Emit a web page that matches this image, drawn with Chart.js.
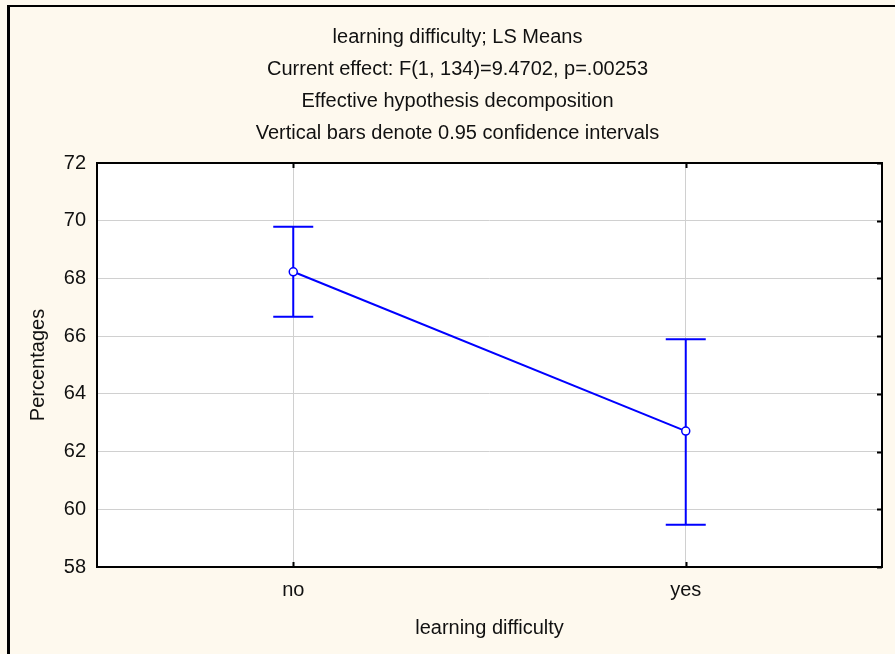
<!DOCTYPE html>
<html>
<head>
<meta charset="utf-8">
<title>learning difficulty; LS Means</title>
<script src="https://cdn.jsdelivr.net/npm/chart.js@4/dist/chart.umd.min.js"></script>
<style>
  html, body { margin: 0; padding: 0; background: #fef9ee; }
  #lsMeans { display: block; }
</style>
</head>
<body>
<canvas id="lsMeans" width="895" height="654"></canvas>
<script>
// LS means with 0.95 confidence intervals
const categories = ['no', 'yes'];
const means = [68.23, 62.71];
const ciLower = [66.67, 59.46];
const ciUpper = [69.79, 65.89];
const yTicks = [58, 60, 62, 64, 66, 68, 70, 72];
const titleLines = [
  'learning difficulty; LS Means',
  'Current effect: F(1, 134)=9.4702, p=.00253',
  'Effective hypothesis decomposition',
  'Vertical bars denote 0.95 confidence intervals'
];

const fontFamily = "'Liberation Sans', Arial, sans-serif";
const blue = '#0000ff';

// background, error bars, borders and inner tick marks
const framePlugin = {
  id: 'frame',
  beforeDraw(chart) {
    const { ctx, chartArea: a } = chart;
    ctx.save();
    ctx.fillStyle = '#fef9ee';
    ctx.fillRect(0, 0, chart.width, chart.height);
    ctx.fillStyle = '#ffffff';
    ctx.fillRect(a.left, a.top, a.right - a.left, a.bottom - a.top);
    ctx.restore();
  },
  beforeDatasetsDraw(chart) {
    const { ctx } = chart;
    const x = chart.scales.x;
    const y = chart.scales.y;
    ctx.save();
    ctx.strokeStyle = blue;
    ctx.lineWidth = 2;
    categories.forEach((c, i) => {
      const px = x.getPixelForValue(i);
      const top = y.getPixelForValue(ciUpper[i]);
      const bot = y.getPixelForValue(ciLower[i]);
      ctx.beginPath();
      ctx.moveTo(px, top);
      ctx.lineTo(px, bot);
      ctx.moveTo(px - 20, top);
      ctx.lineTo(px + 20, top);
      ctx.moveTo(px - 20, bot);
      ctx.lineTo(px + 20, bot);
      ctx.stroke();
    });
    ctx.restore();
  },
  afterDraw(chart) {
    const { ctx, chartArea: a } = chart;
    const x = chart.scales.x;
    const y = chart.scales.y;
    ctx.save();
    ctx.strokeStyle = '#000';
    ctx.lineWidth = 2;
    ctx.strokeRect(a.left, a.top, a.right - a.left, a.bottom - a.top);
    ctx.beginPath();
    categories.forEach((c, i) => {
      const px = Math.round(x.getPixelForValue(i)) + 0.5;
      ctx.moveTo(px, a.top);
      ctx.lineTo(px, a.top + 5);
      ctx.moveTo(px, a.bottom);
      ctx.lineTo(px, a.bottom - 5);
    });
    yTicks.forEach(v => {
      const py = Math.round(y.getPixelForValue(v)) + 0.5;
      ctx.moveTo(a.right, py);
      ctx.lineTo(a.right - 5, py);
    });
    ctx.stroke();
    // outer frame (top and left edges)
    ctx.fillStyle = '#000';
    ctx.fillRect(7, 5, chart.width - 7, 2);
    ctx.fillRect(7, 5, 3, chart.height - 5);
    ctx.restore();
  }
};

const ctx = document.getElementById('lsMeans').getContext('2d');
new Chart(ctx, {
  type: 'line',
  data: {
    labels: categories,
    datasets: [{
      label: 'LS Means',
      data: means,
      borderColor: blue,
      borderWidth: 2,
      tension: 0,
      pointRadius: 4,
      pointHoverRadius: 4,
      pointBackgroundColor: '#ffffff',
      pointBorderColor: blue,
      pointBorderWidth: 1.5
    }]
  },
  options: {
    responsive: false,
    animation: false,
    layout: { padding: { left: 20, right: 0, top: 0, bottom: 0 } },
    plugins: {
      legend: { display: false },
      tooltip: { enabled: false },
      title: {
        display: true,
        text: titleLines,
        color: '#111',
        font: { family: fontFamily, size: 20, weight: 'normal', lineHeight: 32 / 20 },
        padding: { top: 21, bottom: 14 }
      }
    },
    scales: {
      x: {
        type: 'category',
        offset: true,
        grid: { color: '#d0d0d0', offset: false, drawTicks: false },
        border: { display: false },
        ticks: { color: '#111', padding: 11, font: { family: fontFamily, size: 20 } },
        title: {
          display: true,
          text: 'learning difficulty',
          color: '#111',
          font: { family: fontFamily, size: 20 },
          padding: { top: 0, bottom: 14 }
        },
        afterFit(scale) { scale.height = 87; }
      },
      y: {
        min: 58,
        max: 72,
        grid: { color: '#d0d0d0', drawTicks: false },
        border: { display: false },
        afterBuildTicks(scale) { scale.ticks = yTicks.map(v => ({ value: v })); },
        ticks: { color: '#111', padding: 11, font: { family: fontFamily, size: 20 } },
        title: {
          display: true,
          text: 'Percentages',
          color: '#111',
          font: { family: fontFamily, size: 20 },
          padding: { top: 6, bottom: 0 }
        },
        afterFit(scale) { scale.width = 77; }
      },
      y2: {
        position: 'right',
        min: 58,
        max: 72,
        grid: { display: false },
        border: { display: false },
        ticks: { display: false },
        afterFit(scale) { scale.width = 13; }
      }
    }
  },
  plugins: [framePlugin]
});
</script>
</body>
</html>
